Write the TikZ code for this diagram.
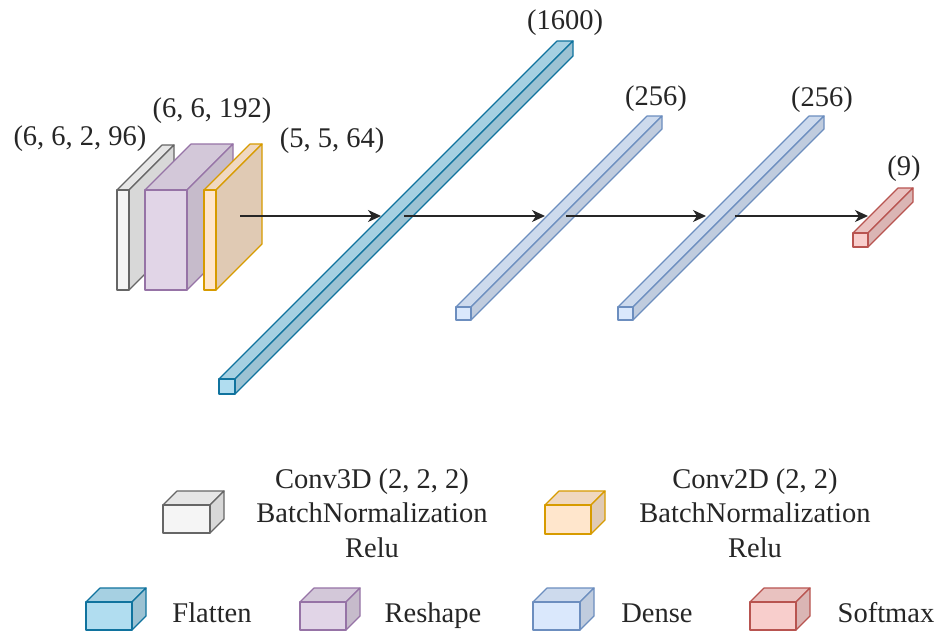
\documentclass[tikz,border=0pt]{standalone}
\usepackage{fontspec}
\setmainfont{Liberation Serif}
\usetikzlibrary{arrows.meta}

% layer colours (fill / stroke)
\definecolor{convF}{HTML}{F5F5F5}  \definecolor{convS}{HTML}{666666}
\definecolor{reshF}{HTML}{E1D5E7}  \definecolor{reshS}{HTML}{9673A6}
\definecolor{convtF}{HTML}{FFE6CC} \definecolor{convtS}{HTML}{D79B00}
\definecolor{flatF}{HTML}{B1DDF0}  \definecolor{flatS}{HTML}{10739E}
\definecolor{denseF}{HTML}{DAE8FC} \definecolor{denseS}{HTML}{6C8EBF}
\definecolor{softF}{HTML}{F8CECC}  \definecolor{softS}{HTML}{B85450}
\definecolor{ink}{HTML}{262626}

\tikzset{
  cubeedge/.style={line width=1.2pt, line join=round},
  lbl/.style={font=\fontsize{28.5}{34.5}\selectfont, text=ink, inner sep=0pt},
  flow/.style={line width=1.4pt, draw=ink, -{Stealth[length=13pt,width=12pt,inset=4pt]}},
}

% \layercube{name}{x}{y}{w}{h}{depth}{fill}{stroke}
% (x,y) is the top-left corner of the front face
\newcommand{\layercube}[8]{%
  \coordinate (#1-ftl) at (#2,#3);
  \coordinate (#1-ftr) at (#2+#4,#3);
  \coordinate (#1-fbr) at (#2+#4,#3+#5);
  \coordinate (#1-fbl) at (#2,#3+#5);
  \coordinate (#1-btl) at (#2+#6,#3-#6);
  \coordinate (#1-btr) at (#2+#4+#6,#3-#6);
  \coordinate (#1-bbr) at (#2+#4+#6,#3+#5-#6);
  \filldraw[cubeedge, draw=#8, fill=#7!94!black] (#1-ftl) -- (#1-btl) -- (#1-btr) -- (#1-ftr) -- cycle;
  \filldraw[cubeedge, draw=#8, fill=#7!88!black] (#1-ftr) -- (#1-btr) -- (#1-bbr) -- (#1-fbr) -- cycle;
  \filldraw[cubeedge, draw=#8, fill=#7] (#1-ftl) rectangle (#1-fbr);
}

\begin{document}
\begin{tikzpicture}[x=1pt, y=-1pt]
\useasboundingbox[fill=white] (0,0) rectangle (946,638);

% network layers
\layercube{conv3d}{117}{190}{12}{100}{45}{convF}{convS}
\layercube{reshape}{145}{190}{42}{100}{46}{reshF}{reshS}
\layercube{conv2d}{204}{190}{12}{100}{46}{convtF}{convtS}
\layercube{flatten}{219}{379}{16}{15}{338}{flatF}{flatS}
\layercube{denseA}{456}{307}{15}{13}{191}{denseF}{denseS}
\layercube{denseB}{618}{307}{15}{13}{191}{denseF}{denseS}
\layercube{softmax}{853}{233}{15}{14}{45}{softF}{softS}

% output shapes
\node[lbl, anchor=base] (s-conv3d)  at (80,145)  {(6, 6, 2, 96)};
\node[lbl, anchor=base] (s-reshape) at (212,117) {(6, 6, 192)};
\node[lbl, anchor=base] (s-conv2d)  at (332,147) {(5, 5, 64)};
\node[lbl, anchor=base] (s-flatten) at (565,29)  {(1600)};
\node[lbl, anchor=base] (s-denseA)  at (656,105) {(256)};
\node[lbl, anchor=base] (s-denseB)  at (822,106) {(256)};
\node[lbl, anchor=base] (s-softmax) at (904,175) {(9)};

% data flow
\coordinate (f0) at (240,216);  \coordinate (f1) at (381,216);
\coordinate (g0) at (404,216);  \coordinate (g1) at (545,216);
\coordinate (h0) at (566,216);  \coordinate (h1) at (706,216);
\coordinate (k0) at (735,216);  \coordinate (k1) at (868,216);
\draw[flow] (f0) -- (f1);
\draw[flow] (g0) -- (g1);
\draw[flow] (h0) -- (h1);
\draw[flow] (k0) -- (k1);

% legend
\layercube{lg-conv3d}{163}{505}{47}{28}{14}{convF}{convS}
\layercube{lg-conv2d}{545}{505}{46}{29}{14}{convtF}{convtS}
\layercube{lg-flatten}{86}{602}{46}{28}{14}{flatF}{flatS}
\layercube{lg-reshape}{300}{602}{46}{28}{14}{reshF}{reshS}
\layercube{lg-dense}{533}{602}{47}{28}{14}{denseF}{denseS}
\layercube{lg-softmax}{750}{602}{46}{28}{14}{softF}{softS}

% multi-line labels: the base anchor sits on the last line
\node[lbl, anchor=base, align=center] (t-conv3d) at (372,557) {Conv3D (2, 2, 2)\\BatchNormalization\\Relu};
\node[lbl, anchor=base, align=center] (t-conv2d) at (755,557) {Conv2D (2, 2)\\BatchNormalization\\Relu};
\node[lbl, anchor=base] (t-flatten) at (212,622) {Flatten};
\node[lbl, anchor=base] (t-reshape) at (433,622) {Reshape};
\node[lbl, anchor=base] (t-dense)   at (657,622) {Dense};
\node[lbl, anchor=base] (t-softmax) at (886,622) {Softmax};
\end{tikzpicture}
\end{document}
